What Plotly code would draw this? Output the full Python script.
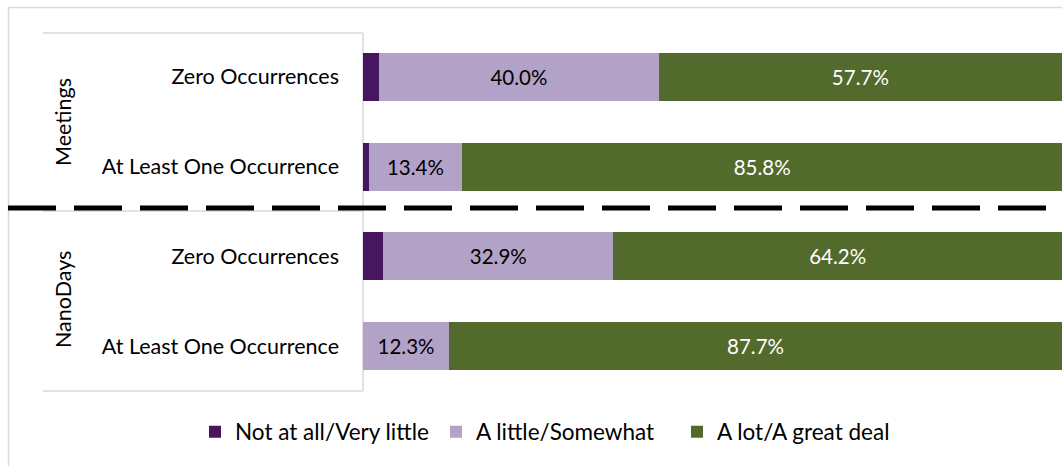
import plotly.graph_objects as go

categories = ["Zero Occurrences", "At Least One Occurrence", "Zero Occurrences", "At Least One Occurrence"]
groups = ["Meetings", "NanoDays"]
not_at_all = [2.3, 0.8, 2.9, 0.0]
a_little = [40.0, 13.4, 32.9, 12.3]
a_lot = [57.7, 85.8, 64.2, 87.7]
series_names = ["Not at all/Very little", "A little/Somewhat", "A lot/A great deal"]
colors = ["#46165E", "#B3A2C7", "#536A2D"]

W, H = 1062, 466
FONT = "Lato"
FS = 21.5
ypos = [3, 2, 1, 0]

def px(x):
    return x / W

def py(y):
    return 1 - y / H

fig = go.Figure()
vals = [not_at_all, a_little, a_lot]
text_colors = ["black", "black", "white"]
for i, (name, v, c) in enumerate(zip(series_names, vals, colors)):
    fig.add_trace(go.Bar(
        y=ypos, x=v, name=name, orientation="h",
        marker=dict(color=c, line=dict(width=0)),
        width=0.535,
        text=[f"{t:.1f}%" for t in v] if i > 0 else None,
        textposition="inside" if i > 0 else "none",
        insidetextanchor="middle",
        textfont=dict(family=FONT, size=20.5, color=text_colors[i]),
        hoverinfo="skip",
    ))

fig.update_layout(
    barmode="stack",
    width=W, height=H,
    margin=dict(l=0, r=0, t=0, b=0),
    paper_bgcolor="white", plot_bgcolor="white",
    font=dict(family=FONT, size=FS, color="black"),
    uniformtext=dict(minsize=10, mode="show"),
    xaxis=dict(domain=[px(363), 1], range=[0, 100], showgrid=False, zeroline=False,
               showticklabels=False, showline=False),
    yaxis=dict(domain=[py(391), py(32)], range=[-0.5, 3.5], tickvals=ypos, ticktext=categories,
               showgrid=False, zeroline=False, showline=False, ticks="",
               ticklabelstandoff=23, tickfont=dict(family=FONT, size=FS, color="black")),
    legend=dict(orientation="h", x=px(195), xanchor="left", y=py(432), yanchor="middle",
                font=dict(family=FONT, size=22.5, color="black"), traceorder="normal",
                itemwidth=30, entrywidth=196, entrywidthmode="pixels",
                bgcolor="rgba(0,0,0,0)"),
    showlegend=True,
)

grey = "#D9D9D9"
shapes = [
    dict(type="rect", xref="paper", yref="paper", x0=px(8.5), x1=px(1075), y0=py(480), y1=py(7.5),
         line=dict(color=grey, width=1.5), fillcolor="rgba(0,0,0,0)", layer="below"),
    dict(type="line", xref="paper", yref="paper", x0=px(43), x1=px(363), y0=py(33), y1=py(33),
         line=dict(color=grey, width=1.5)),
    dict(type="line", xref="paper", yref="paper", x0=px(43), x1=px(363), y0=py(211), y1=py(211),
         line=dict(color=grey, width=1.5)),
    dict(type="line", xref="paper", yref="paper", x0=px(43), x1=px(363), y0=py(391), y1=py(391),
         line=dict(color=grey, width=1.5)),
    dict(type="line", xref="paper", yref="paper", x0=px(363), x1=px(363), y0=py(33), y1=py(391),
         line=dict(color=grey, width=1.5), layer="below"),
    dict(type="line", xref="paper", yref="paper", x0=px(8), x1=px(1062), y0=py(208), y1=py(208),
         line=dict(color="black", width=5, dash="48px,18px")),
]
fig.update_layout(shapes=shapes)

for g, yc in zip(groups, [122, 300]):
    fig.add_annotation(x=px(63), y=py(yc), xref="paper", yref="paper", text=g,
                       textangle=-90, showarrow=False, xanchor="center", yanchor="middle",
                       font=dict(family=FONT, size=FS, color="black"))

fig.write_html(
    "out.html",
    config={"displayModeBar": False},
    post_script="document.body.style.margin='0px';document.body.style.overflow='hidden';",
)
